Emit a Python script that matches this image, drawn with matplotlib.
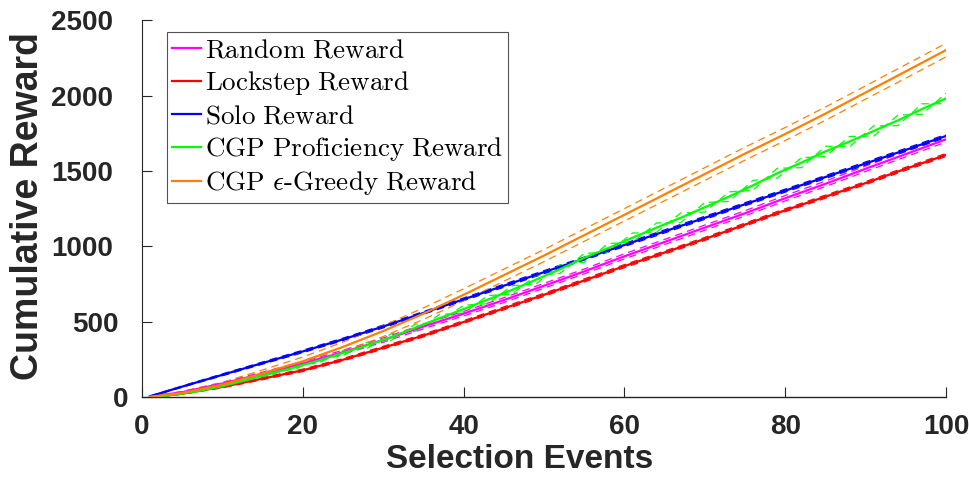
import matplotlib
matplotlib.use("Agg")
import matplotlib.pyplot as plt
from matplotlib.transforms import ScaledTranslation
import numpy as np

# ---- data ----
x = [1, 5, 10, 15, 20, 25, 30, 35, 40, 45, 50, 55, 60, 65, 70, 75, 80, 85, 90, 95, 100]

random_mean = [5, 35, 92, 158, 225, 300, 380, 470, 555, 645, 740, 835, 935, 1030, 1125, 1220, 1320, 1415, 1515, 1612, 1710]
random_spread = [2, 5, 8, 10, 12, 13, 14, 15, 15, 16, 16, 16, 17, 17, 17, 17, 18, 18, 18, 18, 18]

lockstep_mean = [3, 25, 70, 125, 180, 250, 330, 410, 500, 590, 680, 775, 870, 960, 1050, 1145, 1240, 1330, 1420, 1515, 1606]
lockstep_spread = [2, 4, 6, 7, 8, 8, 9, 9, 9, 10, 10, 10, 10, 10, 10, 10, 10, 10, 10, 10, 10]

solo_mean = [8, 72, 150, 228, 305, 385, 470, 560, 650, 740, 830, 920, 1010, 1100, 1190, 1280, 1370, 1460, 1550, 1640, 1732]
solo_spread = [2, 4, 6, 7, 8, 8, 9, 9, 9, 10, 10, 10, 10, 10, 10, 10, 10, 10, 10, 10, 10]

greedy_mean = [5, 30, 85, 160, 240, 335, 440, 555, 680, 810, 940, 1075, 1210, 1345, 1480, 1615, 1745, 1880, 2020, 2160, 2301]
greedy_spread = [3, 8, 15, 22, 28, 32, 36, 38, 40, 40, 40, 41, 41, 42, 42, 43, 43, 44, 44, 45, 45]

x_prof = [1, 4, 7, 10, 13, 16, 19, 22, 25, 28, 31, 34, 37, 40, 43, 46, 49, 52, 55,
          58, 61, 64, 67, 70, 73, 76, 79, 82, 85, 88, 91, 94, 97, 100]
prof_mean = [2, 18, 42, 75, 115, 158, 200, 245, 295, 345, 400, 462, 525, 585, 648, 712, 780, 850, 925,
             990, 1058, 1125, 1190, 1260, 1330, 1405, 1485, 1555, 1630, 1695, 1765, 1835, 1910, 1981]
prof_spread = [2, -4, 6, -8, 10, -12, 14, -16, 18, -20, 22, -24, 25, -26, 27, -28, 28, -29, 30,
               -30, 31, -31, 32, -32, 32, -33, 33, -33, 34, -34, 34, -35, 35, -35]

labels = [r"$\mathrm{Random\ Reward}$",
          r"$\mathrm{Lockstep\ Reward}$",
          r"$\mathrm{Solo\ Reward}$",
          r"$\mathrm{CGP\ Proficiency\ Reward}$",
          r"$\mathrm{CGP\ }\epsilon\mathrm{\text{-}Greedy\ Reward}$"]
colors = ["#ff00ff", "#ff0000", "#0000ff", "#00ff00", "#ff8000"]

xticks = [0, 20, 40, 60, 80, 100]
yticks = [0, 500, 1000, 1500, 2000, 2500]

plt.rcParams["mathtext.fontset"] = "cm"
plt.rcParams["font.family"] = ["Liberation Sans", "DejaVu Sans"]

fig = plt.figure(figsize=(9.69, 4.8), dpi=100)
ax = fig.add_axes([0.1465, 0.1719, 0.8298, 0.7864])

series = [
    (x, random_mean, random_spread),
    (x, lockstep_mean, lockstep_spread),
    (x, solo_mean, solo_spread),
    (x_prof, prof_mean, prof_spread),
    (x, greedy_mean, greedy_spread),
]

handles = []
for (xs, m, s), c, lab in zip(series, colors, labels):
    m = np.asarray(m, float)
    s = np.asarray(s, float)
    h, = ax.plot(xs, m, color=c, lw=1.6, label=lab, zorder=3)
    ax.plot(xs, m + s, color=c, lw=0.9, ls=(0, (6, 4)), zorder=2)
    ax.plot(xs, m - s, color=c, lw=0.9, ls=(0, (6, 4)), zorder=2)
    handles.append(h)

ax.set_xlim(0, 100)
ax.set_ylim(0, 2500)
ax.set_xticks(xticks)
ax.set_yticks(yticks)
ax.tick_params(direction="in", length=7, width=0.8, colors="#262626", labelsize=20)
ax.tick_params(axis="x", pad=12)
ax.tick_params(axis="y", pad=21)
for lab in ax.get_xticklabels() + ax.get_yticklabels():
    lab.set_fontweight("bold")
# the reference's y tick labels are not exactly right-aligned (MATLAB rendering)
ytick_dx_px = [16, 6, 0, 0, 0, 0]
for lab, dx in zip(ax.get_yticklabels(), ytick_dx_px):
    lab.set_transform(lab.get_transform() + ScaledTranslation(dx / 100.0, 0, fig.dpi_scale_trans))

ax.spines["top"].set_visible(False)
ax.spines["right"].set_visible(False)
ax.spines["left"].set_color("#262626")
ax.spines["bottom"].set_color("#262626")
ax.spines["bottom"].set_linewidth(1.0)

ax.set_xlabel("Selection Events", fontsize=24, fontweight="bold", color="#262626")
ax.set_ylabel("Cumulative Reward", fontsize=27, fontweight="bold", color="#262626")
ax.xaxis.set_label_coords(0.470, -0.123)
ax.yaxis.set_label_coords(-0.142, 0.507)
ax.yaxis.label.set_horizontalalignment("center")
ax.yaxis.label.set_verticalalignment("center")

leg = ax.legend(handles=handles, loc="upper left", bbox_to_anchor=(0.031, 0.968),
                fontsize=19.5, frameon=True, fancybox=False, edgecolor="#262626",
                handlelength=1.05, handletextpad=0.15, labelspacing=0.22,
                borderpad=0.2, borderaxespad=0.0)
leg.get_frame().set_linewidth(0.8)

fig.savefig("out.png", dpi=100)
